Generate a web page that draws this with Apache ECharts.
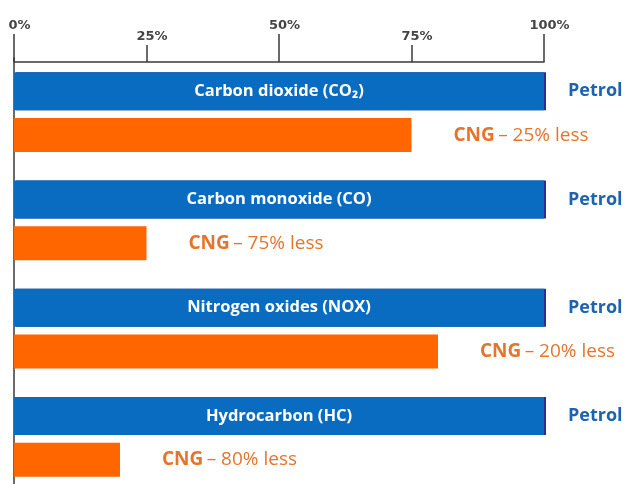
<!DOCTYPE html>
<html>
<head>
<meta charset="utf-8">
<script src="https://cdn.jsdelivr.net/npm/echarts@6/dist/echarts.min.js"></script>
<style>
  html, body { margin: 0; padding: 0; background: #ffffff; overflow: hidden; }
  /* the plot runs slightly past the bottom edge of the window */
  #chart { width: 629px; height: 491px; }
</style>
</head>
<body>
<div id="chart"></div>
<script>
// Emissions of a CNG vehicle relative to a petrol vehicle (petrol = 100%)
const pollutants = ['Carbon dioxide (CO₂)', 'Carbon monoxide (CO)', 'Nitrogen oxides (NOX)', 'Hydrocarbon (HC)'];
const petrolLevel = [100, 100, 100, 100];
const cngLevel = [75, 25, 80, 20];
const majorTicks = [0, 50, 100];
const minorTicks = [25, 75];

const BLUE = '#0A6CC1';
const ORANGE = '#FF6600';
const LABEL_FONT = '"Open Sans", Lato, sans-serif';

const chart = echarts.init(document.getElementById('chart'), null, { renderer: 'canvas' });

const baseXAxis = {
  type: 'value',
  position: 'top',
  min: 0,
  max: 100,
  offset: -4,
  splitLine: { show: false },
  axisTick: { show: true, inside: false, lineStyle: { color: '#3a3a3a', width: 1.5 } },
  axisLabel: {
    fontFamily: '"DejaVu Sans", sans-serif',
    fontWeight: 'bold',
    fontSize: 13,
    color: '#454545',
    padding: [0, 0, 0, 11]
  }
};

const baseYAxis = {
  type: 'category',
  inverse: true,
  data: pollutants,
  axisTick: { show: false },
  splitLine: { show: false }
};

chart.setOption({
  animation: false,
  grid: { left: 14, right: 85, top: 58, bottom: 0, containLabel: false },
  xAxis: [
    Object.assign({}, baseXAxis, {
      interval: 50,
      axisLine: { show: true, lineStyle: { color: '#3a3a3a', width: 1.5 } },
      axisTick: Object.assign({}, baseXAxis.axisTick, { length: 28 }),
      axisLabel: Object.assign({}, baseXAxis.axisLabel, {
        margin: 30,
        formatter: v => majorTicks.includes(v) ? v + '%' : ''
      })
    }),
    Object.assign({}, baseXAxis, {
      interval: 25,
      axisLine: { show: false },
      axisTick: Object.assign({}, baseXAxis.axisTick, { length: 17 }),
      axisLabel: Object.assign({}, baseXAxis.axisLabel, {
        margin: 19,
        formatter: v => minorTicks.includes(v) ? v + '%' : ''
      })
    })
  ],
  yAxis: [
    Object.assign({}, baseYAxis, {
      position: 'left',
      axisLine: { show: true, lineStyle: { color: '#3a3a3a', width: 1.5 } },
      axisLabel: { show: false }
    }),
    // right-hand axis carries the "Petrol" tag level with each blue bar
    Object.assign({}, baseYAxis, {
      position: 'right',
      axisLine: { show: false },
      axisLabel: {
        show: true,
        margin: 24,
        align: 'left',
        verticalAlign: 'bottom',
        lineHeight: 42,
        formatter: () => 'Petrol',
        color: '#1F63AE',
        fontFamily: LABEL_FONT,
        fontWeight: 'bold',
        fontSize: 18
      }
    })
  ],
  series: [
    {
      name: 'Petrol',
      type: 'bar',
      xAxisIndex: 0,
      yAxisIndex: 0,
      data: petrolLevel,
      barWidth: 38,
      barGap: '21%',
      itemStyle: {
        color: BLUE,
        shadowColor: '#2b2f8f',
        shadowOffsetX: 2,
        shadowBlur: 0
      },
      label: {
        show: true,
        position: 'inside',
        formatter: p => p.name,
        color: '#ffffff',
        fontFamily: LABEL_FONT,
        fontWeight: 'bold',
        fontSize: 16.5
      }
    },
    {
      name: 'CNG',
      type: 'bar',
      xAxisIndex: 0,
      yAxisIndex: 0,
      data: cngLevel,
      barWidth: 34,
      barGap: '21%',
      itemStyle: { color: ORANGE },
      label: {
        show: true,
        position: 'right',
        distance: 42,
        formatter: p => '{b|CNG} {n|– ' + (petrolLevel[p.dataIndex] - p.value) + '% less}',
        rich: {
          b: { color: '#E5752C', fontFamily: LABEL_FONT, fontWeight: 'bold', fontSize: 19 },
          n: { color: '#E5752C', fontFamily: LABEL_FONT, fontWeight: 'normal', fontSize: 19 }
        }
      }
    }
  ]
});
</script>
</body>
</html>
